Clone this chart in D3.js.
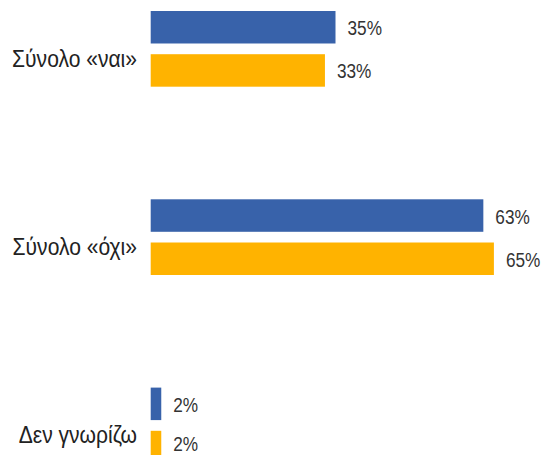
<!DOCTYPE html>
<html>
<head>
<meta charset="utf-8">
<script src="https://cdn.jsdelivr.net/npm/d3@7"></script>
<style>
html,body{margin:0;padding:0;background:#fff;}
svg{display:block;}
</style>
</head>
<body>
<svg id="chart" width="555" height="455"></svg>
<script>
const categories = ["Σύνολο «ναι»", "Σύνολο «όχι»", "Δεν γνωρίζω"];
const seriesNames = ["series1", "series2"];
const series1 = [35, 63, 2];
const series2 = [33, 65, 2];
const colors = ["#3862AA", "#FFB300"];

const FONT = "'Liberation Sans',Arial,sans-serif";
const svg = d3.select("#chart");

const x = d3.scaleLinear().domain([0, 100]).range([150.7, 678.7]);
const y = d3.scaleBand().domain(categories).range([11, 463.3]).paddingInner(0.598).paddingOuter(0);
const ys = d3.scaleBand().domain(seriesNames).range([0, y.bandwidth()]).paddingInner(0.248).paddingOuter(0);

const data = [];
categories.forEach((c, i) => {
  data.push({cat: c, s: seriesNames[0], v: series1[i], color: colors[0]});
  data.push({cat: c, s: seriesNames[1], v: series2[i], color: colors[1]});
});

svg.selectAll("rect.bar").data(data).join("rect")
  .attr("class", "bar")
  .attr("x", x(0))
  .attr("y", d => y(d.cat) + ys(d.s))
  .attr("width", d => x(d.v) - x(0))
  .attr("height", ys.bandwidth())
  .attr("fill", d => d.color);

svg.selectAll("text.val").data(data).join("text")
  .attr("class", "val")
  .attr("transform", d => {
    const tx = x(d.v) + 12;
    const ty = Math.min(y(d.cat) + ys(d.s) + ys.bandwidth() / 2 + 8, 451);
    return `translate(${tx},${ty}) scale(0.84,1)`;
  })
  .attr("font-family", FONT)
  .attr("font-size", 20.5)
  .attr("fill", "#333")
  .text(d => d.v + "%");

svg.selectAll("text.cat").data(categories).join("text")
  .attr("class", "cat")
  .attr("transform", d => `translate(137,${y(d) + y.bandwidth() / 2 + 18}) scale(0.86,1)`)
  .attr("text-anchor", "end")
  .attr("font-family", FONT)
  .attr("font-size", 24.5)
  .attr("fill", "#222")
  .text(d => d);
</script>
</body>
</html>
